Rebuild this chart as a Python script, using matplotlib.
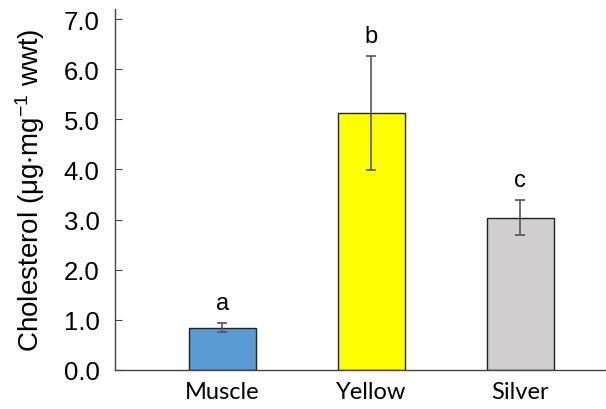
import numpy as np
import matplotlib.pyplot as plt

plt.rcParams.update({"mathtext.default": "regular", "mathtext.fontset": "custom",
                     "mathtext.rm": "Liberation Sans", "mathtext.it": "Liberation Sans"})

tissues = ["Muscle", "Yellow", "Silver"]
cholesterol = [0.84, 5.13, 3.04]
sem = [0.09, 1.14, 0.35]
letters = ["a", "b", "c"]
colors = ["#5B9BD5", "#FFFF00", "#D0CECE"]

fig = plt.figure(figsize=(6.06, 4.10), dpi=100)
ax = fig.add_axes([115 / 606, 39 / 410, 490 / 606, 361 / 410])

x = np.arange(len(tissues))
ax.bar(x, cholesterol, width=0.45, color=colors, edgecolor="#222222", linewidth=1.0, zorder=2)
ax.errorbar(x, cholesterol, yerr=sem, fmt="none", ecolor="#555555", elinewidth=1.2,
            capsize=3.3, capthick=1.2, zorder=3)

for xi, v, e, l in zip(x, cholesterol, sem, letters):
    ax.text(xi, v + e + 0.18, l, ha="center", va="bottom", fontsize=17, family="Liberation Sans")

ax.set_xlim(-0.72, 2.57)
ax.set_ylim(0, 7.2)
ax.set_yticks(np.arange(0, 7.01, 1.0))
ax.set_yticklabels([f"{t:.1f}" for t in np.arange(0, 7.01, 1.0)], fontsize=18.5, family="Liberation Sans")
ax.set_xticks(x)
ax.set_xticklabels(tissues, fontsize=17, family="Lato")
ax.tick_params(axis="x", length=0, pad=8)
ax.tick_params(axis="y", direction="in", length=5, color="#444444", pad=11)

for s in ["top", "right"]:
    ax.spines[s].set_visible(False)
for s in ["left", "bottom"]:
    ax.spines[s].set_color("#444444")
    ax.spines[s].set_linewidth(1.0)

ax.set_ylabel("Cholesterol ($\\mu$g$\\cdot$mg$^{-1}$ wwt)", fontsize=20, family="Liberation Sans", labelpad=12)

fig.savefig("out.png", dpi=100)
